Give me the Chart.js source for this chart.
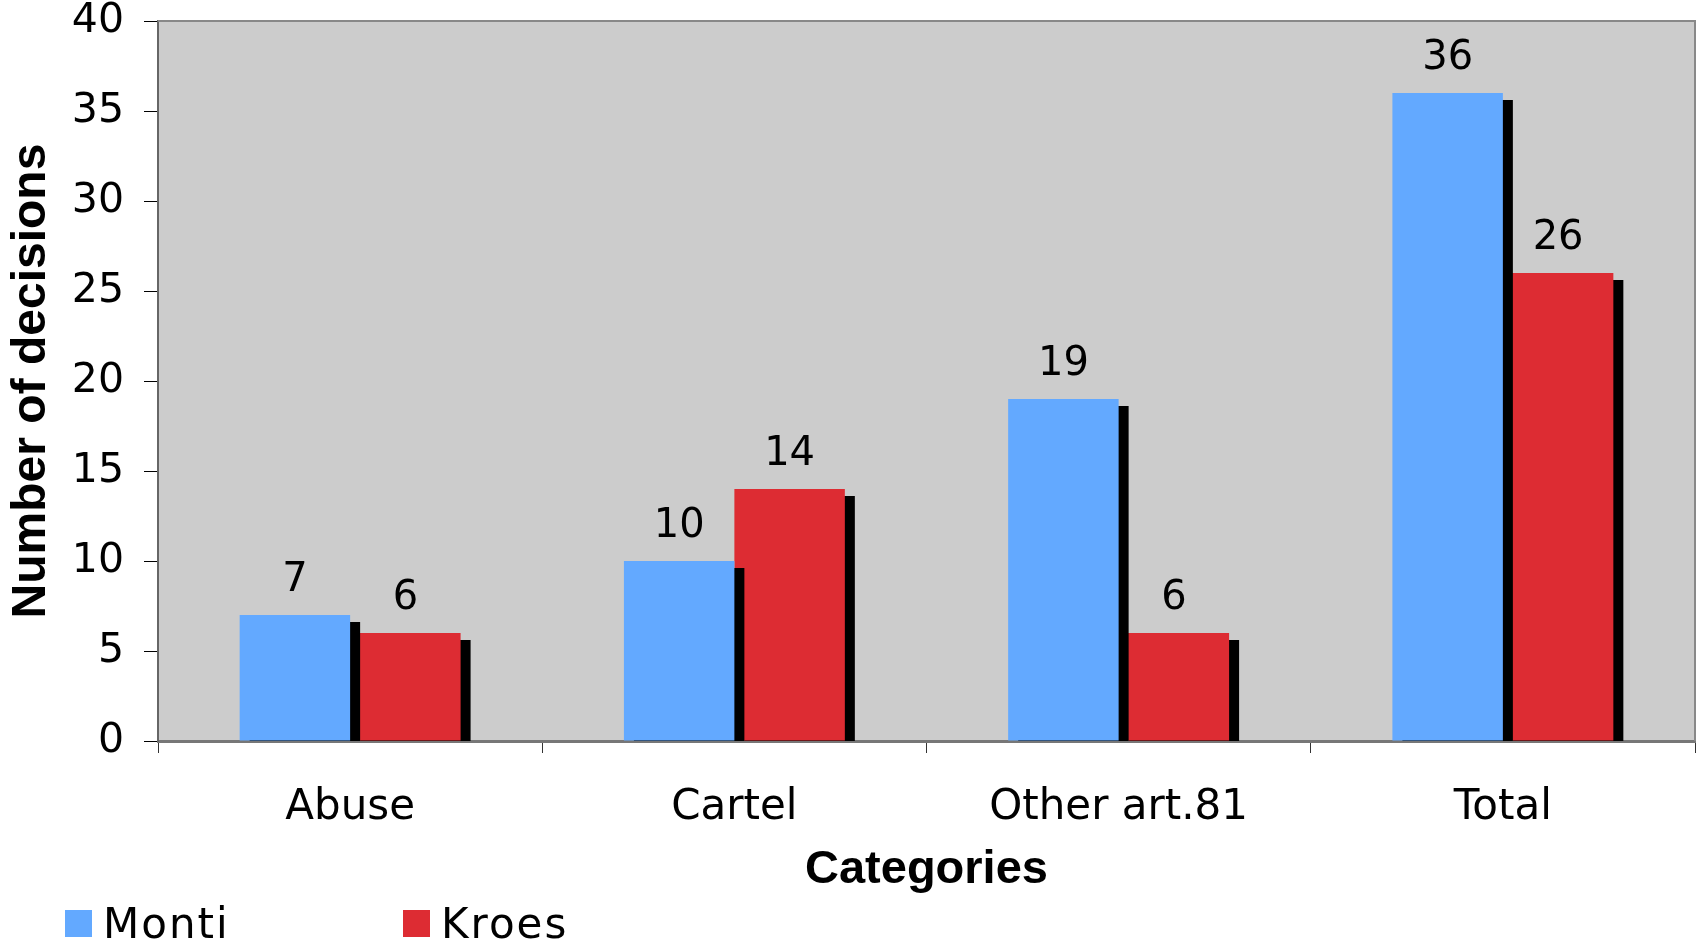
<!DOCTYPE html>
<html>
<head>
<meta charset="utf-8">
<script src="https://cdn.jsdelivr.net/npm/chart.js@4.4.1/dist/chart.umd.min.js"></script>
<style>
    html, body { margin: 0; padding: 0; background: #ffffff; }
    #chart_wrap { width: 1702px; height: 944px; }
</style>
</head>
<body>
<div id="chart_wrap"><canvas id="chart_decisions" width="1702" height="944"></canvas></div>
<script>
var categories = ["Abuse", "Cartel", "Other art.81", "Total"];
var montiValues = [7, 10, 19, 36];
var kroesValues = [6, 14, 6, 26];
var seriesNames = ["Monti", "Kroes"];
var yMin = 0;
var yMax = 40;
var yStep = 5;

var montiColor = "#63A9FF";
var kroesColor = "#DD2C33";
var plotColor = "#CCCCCC";

// grey plot area + top/right frame
var plotFrame = {
    id: "plotFrame",
    beforeDraw: function (chart) {
        let a = chart.chartArea;
        let ctx = chart.ctx;
        ctx.save();
        ctx.fillStyle = plotColor;
        ctx.fillRect(a.left, a.top, a.right - a.left, a.bottom - a.top);
        ctx.restore();
    },
    afterDraw: function (chart) {
        let a = chart.chartArea;
        let ctx = chart.ctx;
        ctx.save();
        ctx.strokeStyle = "#888888";
        ctx.lineWidth = 2;
        ctx.beginPath();
        ctx.moveTo(a.left, a.top);
        ctx.lineTo(a.right, a.top);
        ctx.lineTo(a.right, a.bottom);
        ctx.stroke();
        ctx.restore();
    }
};

// hard black drop shadow behind each bar, then the value labels
var barShadow = {
    id: "barShadow",
    beforeDatasetsDraw: function (chart) {
        let ctx = chart.ctx;
        ctx.save();
        ctx.shadowColor = "#000000";
        ctx.shadowOffsetX = 10;
        ctx.shadowOffsetY = 7;
        ctx.shadowBlur = 0;
    },
    afterDatasetsDraw: function (chart) {
        let ctx = chart.ctx;
        ctx.restore();
        ctx.save();
        ctx.fillStyle = "#000000";
        ctx.font = "40px 'DejaVu Sans'";
        ctx.textAlign = "center";
        ctx.textBaseline = "alphabetic";
        chart.data.datasets.forEach(function (ds, i) {
            let meta = chart.getDatasetMeta(i);
            meta.data.forEach(function (bar, j) {
                ctx.fillText(String(ds.data[j]), bar.x, bar.y - 24);
            });
        });
        ctx.restore();
    }
};

// legend row at the bottom left
var bottomLegend = {
    id: "bottomLegend",
    afterDraw: function (chart) {
        let ctx = chart.ctx;
        let h = chart.height;
        ctx.save();
        ctx.font = "42px 'DejaVu Sans'";
        ctx.letterSpacing = "2px";
        ctx.textBaseline = "alphabetic";
        ctx.textAlign = "left";
        chart.data.datasets.forEach(function (ds, i) {
            let x = 65 + i * 338;
            ctx.fillStyle = ds.backgroundColor;
            ctx.fillRect(x, h - 34, 27, 27);
            ctx.fillStyle = "#000000";
            ctx.fillText(ds.label, x + 38, h - 6);
        });
        ctx.restore();
    }
};

var chartData = {
    labels: categories,
    datasets: [
        {
            label: seriesNames[0],
            data: montiValues,
            backgroundColor: montiColor,
            borderWidth: 0,
            clip: 0
        },
        {
            label: seriesNames[1],
            data: kroesValues,
            backgroundColor: kroesColor,
            borderWidth: 0,
            clip: 0
        }
    ]
};

var chartOptions = {
    responsive: false,
    animation: false,
    devicePixelRatio: 1,
    layout: {
        padding: { left: 0, top: 21, right: 7, bottom: 0 }
    },
    datasets: {
        bar: {
            categoryPercentage: 0.575,
            barPercentage: 1.0
        }
    },
    plugins: {
        legend: { display: false },
        tooltip: { enabled: false }
    },
    scales: {
        x: {
            z: 1,
            afterFit: function (scale) { scale.height = 203; },
            grid: {
                drawOnChartArea: false,
                drawTicks: true,
                tickLength: 12,
                color: "#333333",
                lineWidth: 1,
                offset: true
            },
            border: { color: "#777777", width: 3 },
            ticks: {
                color: "#000000",
                font: { family: "'DejaVu Sans'", size: 42 },
                padding: 30,
                maxRotation: 0
            },
            title: {
                display: true,
                text: "Categories",
                color: "#000000",
                font: { family: "'Liberation Sans'", size: 47, weight: "bold" },
                padding: { top: 0, bottom: 46 }
            }
        },
        y: {
            min: yMin,
            max: yMax,
            afterFit: function (scale) {
                scale.width = 158;
                scale.paddingTop = 0;
                scale.paddingBottom = 0;
            },
            grid: {
                drawOnChartArea: false,
                drawTicks: true,
                tickLength: 14,
                color: "#000000",
                lineWidth: 1
            },
            border: { color: "#666666", width: 2 },
            ticks: {
                stepSize: yStep,
                color: "#000000",
                font: { family: "'DejaVu Sans'", size: 41 },
                padding: 20
            },
            title: {
                display: true,
                text: "Number of decisions",
                color: "#000000",
                font: { family: "'Liberation Sans'", size: 48, weight: "bold" },
                padding: { top: 3, bottom: 0 }
            }
        }
    }
};

var chart = new Chart(document.getElementById("chart_decisions").getContext("2d"), {
    type: "bar",
    data: chartData,
    options: chartOptions,
    plugins: [plotFrame, barShadow, bottomLegend]
});
</script>
</body>
</html>
